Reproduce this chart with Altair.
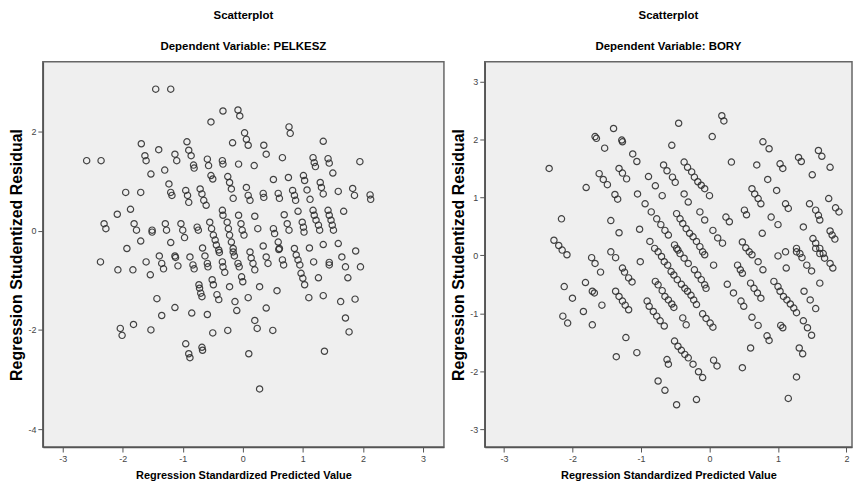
import altair as alt
import pandas as pd

# ---- PELKESZ panel (left) ----
pel_x = [
    -1.45, -1.20, -0.53, -1.69, -1.40, -0.93, -0.90, -0.86, -2.60, -2.36,
    -1.63, -1.61, -1.13, -1.10, -0.82, -0.81, -0.59, -0.57, -0.53, -0.50,
    -1.30, -1.53, -1.23, -1.20, -1.18, -0.95, -0.92, -0.90, -0.71, -0.68,
    -0.65, -0.61, -1.95, -1.70, -1.87, -2.09, -2.31, -2.28, -1.81, -1.77,
    -1.51, -1.51, -1.29, -1.27, -1.03, -1.00, -0.97, -0.76, -0.74, -1.93,
    -1.70, -1.20, -0.67, -2.37, -2.08, -1.83, -1.61, -1.54, -1.39, -1.35,
    -1.32, -1.13, -1.12, -1.08, -0.88, -0.83, -0.81, -0.63, -0.59, -0.58,
    -0.73, -0.72, -0.70, -0.68, -0.51, -0.49, -1.43, -1.13, -1.35, -0.85,
    -0.59, -2.04, -2.01, -1.82, -1.53, -0.95, -0.90, -0.88, -0.68, -0.67,
    -0.50, -0.33, -0.08, -0.05, 0.77, 0.79, 0.03, 0.06, 0.09, -0.17,
    0.35, 0.39, 1.34, 0.66, 1.17, 1.19, 1.21, 1.42, 1.44, 1.95,
    1.50, -0.34, -0.33, -0.07, 0.19, -0.25, -0.22, -0.19, -0.16, 0.06,
    0.09, 0.12, 0.34, 0.35, 0.51, 0.59, 0.61, 0.76, 0.83, 0.86,
    0.88, 1.01, 1.03, 1.07, 1.12, 1.29, 1.31, 1.34, 1.59, 1.83,
    1.86, 2.12, 2.13, 1.68, 0.92, 0.69, 1.17, 1.19, 1.22, 1.26,
    1.28, 1.42, 1.44, 1.47, 1.49, 1.51, -0.07, 0.20, -0.34, -0.33,
    -0.55, -0.52, -0.49, -0.46, -0.44, -0.26, -0.24, -0.22, -0.19, -0.16,
    -0.03, -0.01, 0.02, 0.25, 0.51, 0.53, 0.74, 0.77, 0.99, 1.01,
    1.02, 0.59, 0.61, 0.34, 0.86, 1.34, 1.59, 1.88, 1.11, -0.40,
    -0.39, -0.34, -0.33, -0.30, -0.43, -0.40, -0.22, -0.25, -0.16, -0.14,
    -0.08, -0.06, -0.02, 0.00, -0.13, -0.10, 0.09, 0.12, 0.14, 0.17,
    0.20, 0.28, 0.39, 0.20, 0.24, 0.50, 0.10, 0.28, 0.39, 0.42,
    0.57, 0.60, 0.66, 0.68, 0.89, 0.92, 0.95, 0.97, 1.00, 1.03,
    1.10, 1.18, 1.26, 1.34, 1.44, 1.44, 1.36, 1.65, 1.71, 1.75,
    1.63, 1.71, 1.77, 1.96, 1.87,
]
pel_y = [
    2.85, 2.85, 2.19, 1.75, 1.63, 1.79, 1.62, 1.51, 1.41, 1.41,
    1.51, 1.41, 1.54, 1.41, 1.32, 1.26, 1.44, 1.31, 1.11, 1.04,
    1.22, 1.14, 0.94, 0.77, 0.71, 0.81, 0.71, 0.57, 0.84, 0.74,
    0.61, 0.51, 0.77, 0.77, 0.43, 0.33, 0.14, 0.04, 0.14, 0.01,
    0.01, -0.03, 0.14, 0.01, 0.14, 0.01, -0.14, 0.07, 0.01, -0.36,
    -0.21, -0.24, -0.35, -0.63, -0.79, -0.79, -0.63, -0.89, -0.51, -0.66,
    -0.77, -0.51, -0.54, -0.71, -0.53, -0.69, -0.77, -0.51, -0.66, -0.73,
    -1.09, -1.16, -1.26, -1.33, -0.99, -1.09, -1.37, -1.55, -1.71, -1.66,
    -1.69, -1.97, -2.11, -1.89, -2.00, -2.28, -2.48, -2.56, -2.35, -2.41,
    -2.06, 2.41, 2.43, 2.31, 2.09, 1.96, 1.97, 1.84, 1.72, 1.77,
    1.72, 1.54, 1.80, 1.47, 1.47, 1.37, 1.29, 1.45, 1.36, 1.39,
    1.16, 1.41, 1.34, 1.34, 1.31, 1.09, 0.97, 0.84, 0.65, 0.87,
    0.71, 0.61, 0.75, 0.67, 1.03, 0.75, 0.65, 1.07, 0.81, 0.71,
    0.61, 1.11, 1.01, 0.82, 0.63, 0.97, 0.87, 0.74, 0.79, 0.85,
    0.71, 0.72, 0.63, 0.39, 0.39, 0.32, 0.41, 0.31, 0.21, 0.11,
    0.01, 0.41, 0.31, 0.21, 0.11, 0.01, 0.31, 0.29, 0.41, 0.31,
    0.17, 0.04, -0.09, -0.19, -0.29, 0.17, 0.04, -0.09, -0.23, -0.36,
    0.14, 0.01, -0.09, 0.04, 0.04, -0.06, 0.14, 0.01, 0.17, 0.07,
    -0.03, -0.23, -0.36, -0.31, -0.36, -0.28, -0.26, -0.41, -0.35, -0.39,
    -0.44, -0.63, -0.73, -0.84, -1.29, -1.39, -1.13, -2.01, -0.43, -0.51,
    -0.66, -0.73, -0.93, -1.03, -1.43, -1.61, -1.35, -0.43, -0.55, -0.66,
    -0.79, -1.13, -1.56, -1.81, -1.97, -2.01, -2.48, -3.19, -0.53, -0.66,
    -1.21, -0.38, -0.59, -0.69, -0.49, -0.59, -0.69, -0.86, -0.96, -1.09,
    -1.35, -0.63, -0.95, -1.31, -0.64, -0.69, -2.43, -0.53, -0.73, -0.95,
    -1.43, -1.76, -2.04, -0.73, -1.38,
]

# ---- BORY panel (right) ----
bory_x = [
    -2.34, -1.67, -1.65, -1.40, -1.28, -1.27, -1.53, -1.12, -1.06, -1.32,
    -1.27, -1.21, -1.61, -1.55, -1.49, -1.80, -1.38, -1.34, -1.05, -2.16,
    -1.44, -1.32, -1.02, -2.27, -2.20, -2.15, -2.08, -1.72, -1.44, -1.37,
    -2.12, -2.00, -2.14, -2.07, -1.84, -1.81, -1.67, -1.59, -1.71, -1.68,
    -1.57, -1.71, -1.27, -1.24, -1.18, -1.13, -1.37, -1.32, -1.27, -1.23,
    -1.18, -1.22, -1.36, -1.06, -1.01, -0.79, -0.75, -0.69, -0.65, -0.60,
    -0.55, -0.52, -0.91, -0.88, -0.82, -0.77, -0.72, -0.66, -0.75, -0.70,
    -0.66, -0.61, -0.56, -0.52, -0.47, -0.41, -0.36, -0.32, -0.27, -0.23,
    -0.19, -0.10, -0.05, 0.01, 0.05, -0.48, -0.43, -0.37, -0.31, -0.22,
    -0.17, -0.12, -0.07, -0.05, -0.07, 0.06, -0.39, -0.34, -0.51,
    -0.46, -0.41, -0.36, -0.31, -0.24, -0.62, -0.60, -0.16, -0.10, -0.75,
    -0.65, -0.48, -0.19, 0.06, 0.11, 0.48, 0.60, 0.26, 0.35, 0.41,
    0.45, 0.48, 0.60, 0.65, 0.70, 0.75, 0.46, 0.50, 0.62, 0.71,
    0.84, 0.87, 0.58, 0.62, 0.71, 0.78, 1.00, 1.12, 0.94, 1.00,
    1.03, 1.08, 1.13, 1.18, 1.23, 1.27, 1.04, 1.07, 1.31, 1.36,
    1.27, 1.15, 1.37, 1.43, 1.49, 1.38, 1.47, 1.55, 1.27, 1.35,
    1.42, 1.49, 1.61, 1.55, 1.61, 1.68, 1.76, 1.80, -0.45, 0.18,
    0.21, 0.04, -0.55, 0.32, 0.78, 0.87, 0.69, 1.03, 1.07, 1.30,
    1.34, 1.59, 1.64, 1.76, 1.50, 0.85, 0.98, -0.37, -0.32, -0.26,
    -0.22, -0.17, -0.12, -0.07, 0.00, -0.67, -0.62, -0.54, -0.50, -0.89,
    -0.79, -0.69, -0.37, -0.31, -0.94, -0.85, -0.77, -0.71, -0.65, -0.60,
    -0.87, -0.80, -0.48, -0.43, -0.39, -0.34, -0.29, -0.24, -0.19, -0.14,
    -0.10, -0.14, -0.07, 0.05, 0.12, 0.19, 0.24, 0.29, 0.51, 0.54,
    0.62, 0.66, 0.71, 0.75, 0.90, 1.00, 0.77, 1.11, 1.15, 1.46,
    1.55, 1.59, 1.61, 1.74, 1.84, 1.89, 1.37, 1.76, 1.79, 1.83,
    0.48, 0.53, 1.11, 1.27, 1.32, 1.51, 1.55, 1.61, 1.66, -0.51, -0.46,
]
bory_y = [
    1.50, 2.05, 2.02, 2.19, 1.99, 1.96, 1.85, 1.75, 1.62, 1.50,
    1.42, 1.32, 1.41, 1.31, 1.22, 1.17, 1.05, 0.97, 1.06, 0.63,
    0.60, 0.39, 0.45, 0.26, 0.17, 0.09, 0.01, -0.04, 0.06, -0.04,
    -0.54, -0.74, -1.05, -1.17, -0.97, -0.47, -0.14, -0.29, -0.62, -0.65,
    -0.86, -1.20, -0.22, -0.29, -0.39, -0.46, -0.62, -0.71, -0.79, -0.86,
    -0.94, -1.42, -1.75, -1.68, -0.11, -0.45, -0.51, -0.61, -0.71, -0.77,
    -0.84, -0.90, -0.79, -0.88, -0.97, -1.05, -1.13, -1.22, 0.06, -0.02,
    -0.11, -0.17, -0.28, -0.34, -0.42, -0.50, -0.57, -0.62, -0.69, -0.77,
    -0.85, -1.01, -1.09, -1.17, -1.24, 0.12, 0.03, -0.05, -0.14, -0.25,
    -0.34, -0.42, -0.51, -0.57, 0.01, -0.17, -1.08, -1.20, -1.48,
    -1.57, -1.64, -1.71, -1.77, -1.88, -1.80, -1.88, -2.01, -2.11, -2.17,
    -2.33, -2.58, -2.49, -1.81, -1.91, -1.94, -1.60, -0.50, -0.65, -0.17,
    -0.25, -0.31, -0.48, -0.57, -0.65, -0.74, -0.79, -0.88, -1.07, -1.21,
    -1.39, -1.47, 0.06, 0.01, -0.11, -0.25, -0.01, -0.22, -0.45, -0.54,
    -0.62, -0.71, -0.77, -0.84, -0.91, -0.99, -1.21, -1.25, -1.60, -1.70,
    -2.10, -2.47, -1.13, -1.25, -1.38, -0.62, -0.77, -0.92, 0.06, -0.04,
    -0.17, -0.27, -0.48, 0.12, 0.03, -0.05, -0.14, -0.22, 2.28, 2.41,
    2.32, 2.05, 1.90, 1.61, 1.96, 1.84, 1.56, 1.58, 1.50, 1.69,
    1.62, 1.81, 1.71, 1.52, 1.39, 1.31, 1.12, 1.61, 1.52, 1.44,
    1.35, 1.27, 1.21, 1.15, 1.03, 1.56, 1.46, 1.35, 1.26, 1.36,
    1.20, 1.03, 1.06, 0.92, 0.89, 0.75, 0.63, 0.53, 0.43, 0.35,
    0.24, 0.12, 0.72, 0.63, 0.55, 0.46, 0.38, 0.32, 0.24, 0.15,
    0.06, 0.75, 0.61, 0.43, 0.30, 0.21, 0.66, 0.58, 0.78, 0.70,
    1.15, 1.06, 0.98, 0.89, 0.66, 0.53, 0.38, 0.89, 0.81, 0.89,
    0.78, 0.69, 0.61, 0.98, 0.82, 0.75, 0.49, 0.42, 0.35, 0.28,
    0.23, 0.13, 0.06, 0.12, 0.03, 0.29, 0.21, 0.12, 0.03, 0.18, 0.09,
]

pel_xticks = [-3, -2, -1, 0, 1, 2, 3]
pel_yticks = [-4, -2, 0, 2]
bory_xticks = [-3, -2, -1, 0, 1, 2]
bory_yticks = [-3, -2, -1, 0, 1, 2, 3]

X_TITLE = "Regression Standardized Predicted Value"
Y_TITLE = "Regression Studentized Residual"
SANS = "Liberation Sans, Arial, sans-serif"
PLAIN_LABEL = "'' + datum.value"


def panel(xs, ys, dep, xdom, ydom, xticks, yticks, w, h):
    df = pd.DataFrame({"x": xs, "y": ys})
    title = alt.Title(
        "Scatterplot",
        subtitle=f"Dependent Variable: {dep}",
        anchor="middle",
        font=SANS,
        fontSize=11.5,
        fontWeight="bold",
        color="#000000",
        subtitleFont=SANS,
        subtitleFontSize=11.5,
        subtitleFontWeight="bold",
        subtitleColor="#000000",
        subtitlePadding=20,
        offset=9,
    )
    return (
        alt.Chart(df, title=title)
        .mark_point(shape="circle", filled=False, size=40, color="#303030",
                    strokeWidth=1.2, opacity=0.9)
        .encode(
            x=alt.X("x:Q",
                    scale=alt.Scale(domain=xdom, nice=False, zero=False),
                    axis=alt.Axis(values=xticks, labelExpr=PLAIN_LABEL,
                                  title=X_TITLE, titleFontSize=11,
                                  titlePadding=6, labelPadding=3)),
            y=alt.Y("y:Q",
                    scale=alt.Scale(domain=ydom, nice=False, zero=False),
                    axis=alt.Axis(values=yticks, labelExpr=PLAIN_LABEL,
                                  title=Y_TITLE, titleFontSize=16,
                                  titlePadding=3, labelPadding=2)),
        )
        .properties(width=w, height=h)
    )


left = panel(pel_x, pel_y, "PELKESZ", [-3.33, 3.35], [-4.36, 3.4],
             pel_xticks, pel_yticks, 403, 387)
right = panel(bory_x, bory_y, "BORY", [-3.28, 2.08], [-3.31, 3.34],
              bory_xticks, bory_yticks, 369, 387)

chart = (
    alt.hconcat(left, right, spacing=5)
    .properties(padding={"left": 0, "top": 0, "right": 0, "bottom": 0},
                background="#ffffff")
    .configure_view(fill="#efefef", stroke="#666666", strokeWidth=1.5)
    .configure_axis(
        grid=False,
        domainColor="#555555",
        domainWidth=1.5,
        tickColor="#555555",
        tickSize=5,
        labelFont=SANS,
        labelFontSize=9,
        labelColor="#444444",
        titleFont=SANS,
        titleFontWeight="bold",
        titleColor="#000000",
    )
)

chart.save("out.html", embed_options={"renderer": "svg", "actions": False})
